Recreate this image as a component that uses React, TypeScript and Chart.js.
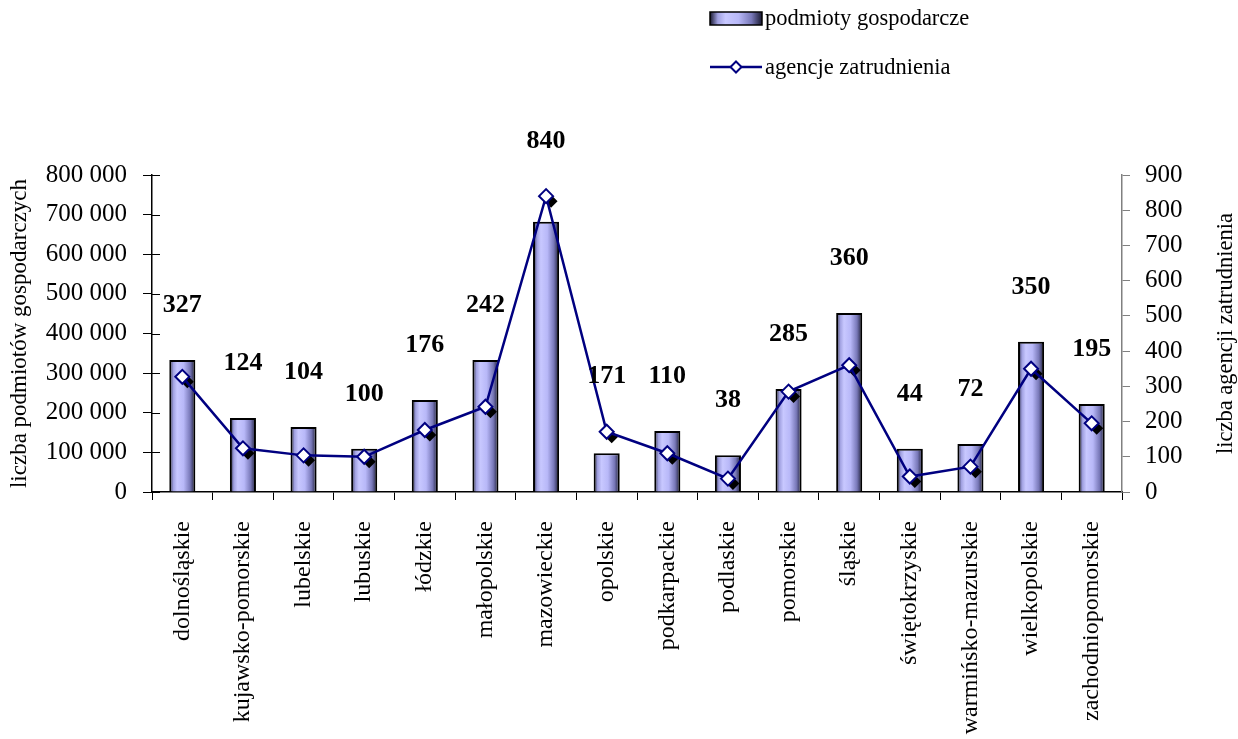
import React, { useEffect, useRef } from "react";
import { Chart, registerables } from "chart.js";

Chart.register(...registerables);

const categories = [
  "dolnośląskie",
  "kujawsko-pomorskie",
  "lubelskie",
  "lubuskie",
  "łódzkie",
  "małopolskie",
  "mazowieckie",
  "opolskie",
  "podkarpackie",
  "podlaskie",
  "pomorskie",
  "śląskie",
  "świętokrzyskie",
  "warmińsko-mazurskie",
  "wielkopolskie",
  "zachodniopomorskie",
];

const podmiotyGospodarcze = [
  333000, 187000, 164000, 109000, 232000, 333000, 682000, 98000, 154000, 93000,
  260000, 452000, 109000, 121000, 379000, 222000,
];

const agencjeZatrudnienia = [
  327, 124, 104, 100, 176, 242, 840, 171, 110, 38, 285, 360, 44, 72, 350, 195,
];

const leftTicksMax = 800000;
const leftTicksStep = 100000;
const rightTicksMax = 900;
const rightTicksStep = 100;

const SERIF = "'Liberation Serif', 'Times New Roman', serif";
const NAVY = "#000080";

const fmt = (v: number) => String(v).replace(/\B(?=(\d{3})+(?!\d))/g, " ");

function barGradient(ctx: CanvasRenderingContext2D, x0: number, x1: number) {
  const g = ctx.createLinearGradient(x0, 0, x1, 0);
  g.addColorStop(0, "#181830");
  g.addColorStop(0.15, "#a0a0e0");
  g.addColorStop(0.3, "#c8c8ff");
  g.addColorStop(0.55, "#b8b8f8");
  g.addColorStop(0.8, "#7878b8");
  g.addColorStop(1, "#181830");
  return g;
}

function diamond(ctx: CanvasRenderingContext2D, x: number, y: number, r: number) {
  ctx.beginPath();
  ctx.moveTo(x, y - r);
  ctx.lineTo(x + r, y);
  ctx.lineTo(x, y + r);
  ctx.lineTo(x - r, y);
  ctx.closePath();
}

const customPlugin = {
  id: "customDecor",
  beforeDatasetDraw(chart: any, args: any) {
    if (args.index !== 1) return;
    const ctx = chart.ctx;
    const meta = chart.getDatasetMeta(1);
    ctx.save();
    ctx.fillStyle = "#000";
    meta.data.forEach((pt: any) => {
      diamond(ctx, pt.x + 5, pt.y + 5, 6.5);
      ctx.fill();
    });
    ctx.restore();
  },
  afterDatasetsDraw(chart: any) {
    const ctx = chart.ctx;
    const x = chart.scales.x;
    const yL = chart.scales.y;
    const yR = chart.scales.y1;
    ctx.save();
    // inner ticks on left axis
    ctx.strokeStyle = "#000";
    ctx.lineWidth = 1;
    for (let v = 0; v <= leftTicksMax; v += leftTicksStep) {
      const py = Math.round(yL.getPixelForValue(v)) + 0.5;
      ctx.beginPath();
      ctx.moveTo(chart.chartArea.left, py);
      ctx.lineTo(chart.chartArea.left + 8, py);
      ctx.stroke();
    }
    // data labels
    ctx.fillStyle = "#000";
    ctx.font = `bold 26px ${SERIF}`;
    ctx.textAlign = "center";
    ctx.textBaseline = "middle";
    agencjeZatrudnienia.forEach((v, i) => {
      const px = x.getPixelForValue(i);
      const top = Math.min(yL.getPixelForValue(podmiotyGospodarcze[i]), yR.getPixelForValue(v));
      ctx.fillText(String(v), px, top - 55);
    });
    // right axis title (reading bottom to top)
    ctx.font = `22.5px ${SERIF}`;
    ctx.translate(1226, (chart.chartArea.top + chart.chartArea.bottom) / 2);
    ctx.rotate(-Math.PI / 2);
    ctx.fillText("liczba agencji zatrudnienia", 0, 0);
    ctx.restore();

    // legend
    ctx.save();
    ctx.fillStyle = barGradient(ctx, 710, 762);
    ctx.fillRect(710, 12, 52, 13);
    ctx.strokeStyle = "#000";
    ctx.lineWidth = 1.5;
    ctx.strokeRect(710, 12, 52, 13);
    ctx.fillStyle = "#000";
    ctx.font = `22.5px ${SERIF}`;
    ctx.textAlign = "left";
    ctx.textBaseline = "middle";
    ctx.fillText("podmioty gospodarcze", 765, 19);
    ctx.strokeStyle = NAVY;
    ctx.lineWidth = 2.5;
    ctx.beginPath();
    ctx.moveTo(710, 67);
    ctx.lineTo(762, 67);
    ctx.stroke();
    ctx.fillStyle = "#fff";
    ctx.lineWidth = 2;
    diamond(ctx, 736, 67, 5.5);
    ctx.fill();
    ctx.stroke();
    ctx.fillStyle = "#000";
    ctx.fillText("agencje zatrudnienia", 765, 68);
    ctx.restore();
  },
};

export default function App() {
  const canvasRef = useRef<HTMLCanvasElement | null>(null);

  useEffect(() => {
    const canvas = canvasRef.current;
    if (!canvas) return;
    const chart = new Chart(canvas, {
      type: "bar",
      data: {
        labels: categories,
        datasets: [
          {
            type: "bar",
            label: "podmioty gospodarcze",
            data: podmiotyGospodarcze,
            yAxisID: "y",
            order: 1,
            backgroundColor: (c: any) => {
              const ch = c.chart;
              const sx = ch.scales && ch.scales.x;
              const cx = sx ? sx.getPixelForValue(c.dataIndex) : NaN;
              if (!Number.isFinite(cx)) return "#b0b0f0";
              return barGradient(ch.ctx, cx - 13, cx + 13);
            },
            borderColor: "#000",
            borderWidth: 2,
            barPercentage: 0.43,
            categoryPercentage: 1,
          },
          {
            type: "line",
            label: "agencje zatrudnienia",
            data: agencjeZatrudnienia,
            yAxisID: "y1",
            order: 0,
            borderColor: NAVY,
            borderWidth: 2.5,
            pointStyle: "rectRot",
            pointRadius: 7,
            pointBackgroundColor: "#fff",
            pointBorderColor: NAVY,
            pointBorderWidth: 2,
            tension: 0,
          },
        ],
      },
      options: {
        animation: false,
        responsive: false,
        devicePixelRatio: 1,
        layout: { padding: { top: 175, left: 0, right: 0, bottom: 0 } },
        plugins: {
          legend: { display: false },
          tooltip: { enabled: false },
        },
        scales: {
          x: {
            type: "category",
            offset: true,
            grid: {
              offset: true,
              drawOnChartArea: false,
              tickLength: 8,
              color: "#000",
            },
            border: { color: "#000", width: 1.5 },
            ticks: {
              minRotation: 90,
              maxRotation: 90,
              autoSkip: false,
              padding: 21,
              color: "#000",
              font: { family: SERIF, size: 24 },
            },
            afterFit: (s: any) => {
              s.height = 247;
            },
          },
          y: {
            position: "left",
            min: 0,
            max: leftTicksMax,
            ticks: {
              stepSize: leftTicksStep,
              color: "#000",
              padding: 16,
              font: { family: SERIF, size: 25 },
              callback: (v: any) => fmt(Number(v)),
            },
            grid: { drawOnChartArea: false, tickLength: 9, color: "#000" },
            border: { color: "#000", width: 1.5 },
            title: {
              display: true,
              text: "liczba podmiotów gospodarczych",
              color: "#000",
              font: { family: SERIF, size: 23 },
              padding: { top: 6, bottom: 0 },
            },
            afterFit: (s: any) => {
              s.width = 152;
            },
          },
          y1: {
            position: "right",
            min: 0,
            max: rightTicksMax,
            ticks: {
              stepSize: rightTicksStep,
              color: "#000",
              padding: 15,
              font: { family: SERIF, size: 25 },
            },
            grid: { drawOnChartArea: false, tickLength: 8, color: "#808080" },
            border: { color: "#808080", width: 1.5 },
            afterFit: (s: any) => {
              s.width = 116;
            },
          },
        },
      },
      plugins: [customPlugin],
    } as any);
    return () => chart.destroy();
  }, []);

  return (
    <div style={{ position: "absolute", left: 0, top: 0, width: 1238, height: 739, background: "#fff" }}>
      <canvas ref={canvasRef} width={1238} height={739} style={{ display: "block", width: 1238, height: 739 }} />
    </div>
  );
}
